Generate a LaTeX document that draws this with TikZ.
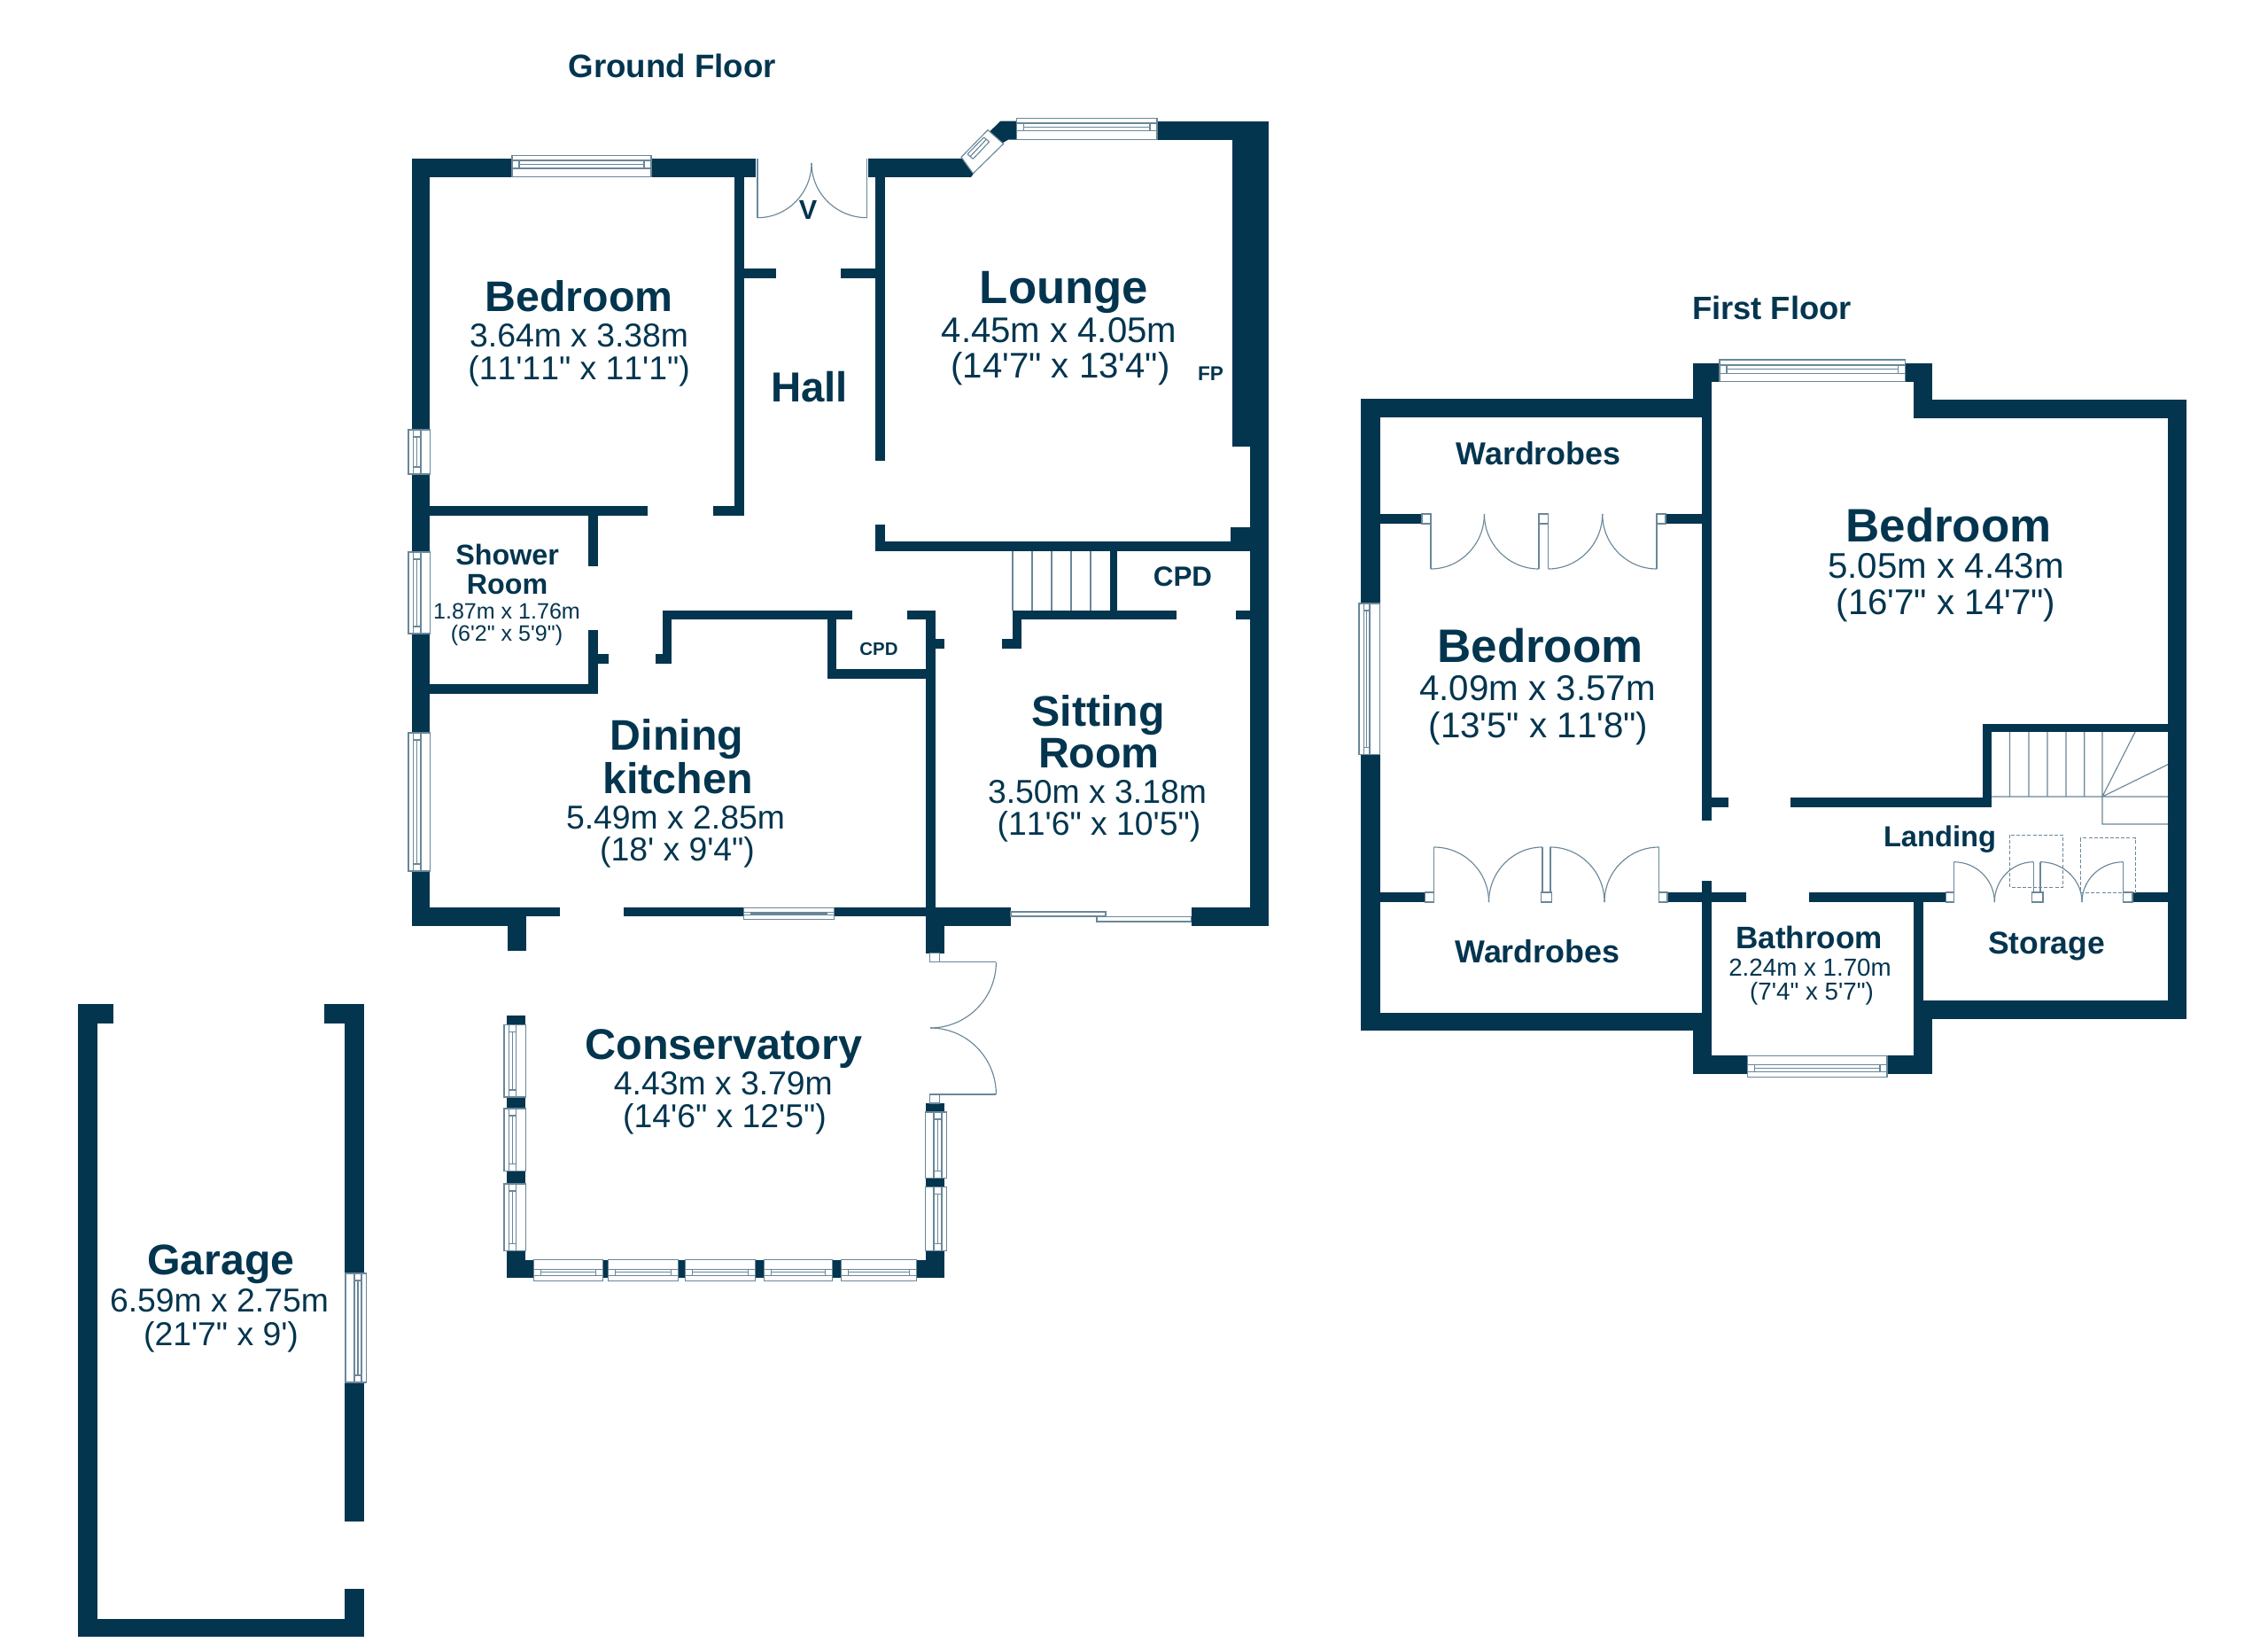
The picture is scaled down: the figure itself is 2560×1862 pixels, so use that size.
\documentclass[tikz,border=0pt]{standalone}
\usepackage{fontspec}
\newfontfamily\lsans{Liberation Sans}
\newfontfamily\lsansnk[Kerning=Off]{Liberation Sans}
\definecolor{wall}{HTML}{03354F}
\definecolor{thin}{HTML}{6A8799}
\tikzset{
  lab/.style={anchor=base,inner sep=0pt,outer sep=0pt,text=wall},
  ttl/.style={lab,font=\lsans\bfseries\fontsize{#1}{#1}\selectfont},
  dm/.style={lab,font=\lsansnk\fontsize{#1}{#1}\selectfont},
  thinline/.style={draw=thin,line width=0.85pt},
  dashline/.style={draw=thin,line width=0.75pt,dashed,dash pattern=on 3pt off 1.6pt},
}
% wall rectangle
\newcommand\wl[4]{\fill[wall] (#1,#2) rectangle (#3,#4);}
% white jamb
\newcommand\jb[4]{\filldraw[thinline,fill=white] (#1,#2) rectangle (#3,#4);}
% horizontal window: x0,y0,x1,y1,ya,yb
\newcommand\hwin[6]{%
  \filldraw[thinline,fill=white] (#1,#2) rectangle (#3,#4);
  \draw[thinline] (#1,#5) -- (#3,#5) (#1,#6) -- (#3,#6)
    ({#1+8},#5) -- ({#1+8},#6) ({#3-8},#5) -- ({#3-8},#6)
    ({#1+8},{(#5+#6)/2}) -- ({#3-8},{(#5+#6)/2});}
% vertical window: x0,y0,x1,y1,xa,xb
\newcommand\vwin[6]{%
  \filldraw[thinline,fill=white] (#1,#2) rectangle (#3,#4);
  \draw[thinline] (#5,#2) -- (#5,#4) (#6,#2) -- (#6,#4)
    (#5,{#2+8}) -- (#6,{#2+8}) (#5,{#4-8}) -- (#6,{#4-8})
    ({(#5+#6)/2},{#2+8}) -- ({(#5+#6)/2},{#4-8});}
% door swing: from (a,b), leaving horizontally, to (c,d), arriving vertically
\newcommand\swing[4]{\draw[thinline] (#1,#2) .. controls ({#1+0.5523*(#3-#1)},#2) and (#3,{#4+0.5523*(#2-#4)}) .. (#3,#4);}
\begin{document}
\begin{tikzpicture}[x=0.75pt,y=-0.75pt]
\useasboundingbox (0,0) rectangle (2560,1862);
\fill[white] (0,0) rectangle (2560,1862);

%% ---------- GROUND FLOOR walls ----------
\wl{464.5}{179}{485}{1045}
\wl{464.5}{179}{853}{200}
\wl{829}{200}{840}{582}
\wl{840}{303}{876}{314}
\wl{949}{303}{988}{314}
\wl{988}{200}{998.5}{520}
\fill[wall] (980,179) -- (1085.7,179) -- (1100.7,193.3) -- (1096,200) -- (980,200) -- cycle;
\fill[wall] (1129.3,136.7) -- (1147.3,136.7) -- (1147.3,157.7) -- (1138,157.7) -- (1130,162.3) -- (1117.3,148.3) -- cycle;
\wl{1306}{136.7}{1432}{158}
\wl{1411}{136.7}{1432}{1045}
\wl{1391}{158}{1411}{504}
\wl{1388.5}{595}{1411}{611.5}
\wl{988}{611.4}{1411}{622}
\wl{988}{592}{998.5}{611.4}
\wl{485}{571}{731}{582}
\wl{805}{571}{840}{582}
\wl{664}{582}{675}{638.6}
\wl{664}{710.7}{675}{782.7}
\wl{675}{738}{687}{749}
\wl{485}{772}{675}{782.7}
\wl{748}{689}{962}{699}
\wl{748}{699}{758}{749}
\wl{740}{738}{758}{749}
\wl{934}{699}{944}{766}
\wl{934}{755}{1045}{766}
\wl{1024}{689}{1055.5}{699}
\wl{1045}{689}{1055.5}{1024}
\wl{1055}{720.7}{1065.5}{731.7}
\wl{1143}{689}{1327.5}{699}
\wl{1143}{699}{1153}{731.7}
\wl{1131}{720.7}{1153}{731.7}
\wl{1395}{689}{1411}{699}
\wl{1252.5}{622}{1261}{689}
\wl{464.5}{1024}{632}{1034.3}
\wl{464.5}{1034}{594}{1045}
\wl{572.6}{1045}{594}{1073}
\wl{704}{1024}{1045}{1034.3}
\wl{1044.5}{1024}{1141}{1045}
\wl{1044.5}{1045}{1065.5}{1075.7}
\wl{1344.7}{1024}{1432}{1045}

%% conservatory piers
\wl{572}{1146}{593.4}{1156.7}
\wl{572}{1238}{593.4}{1251}
\wl{572}{1321.7}{593.4}{1336}
\wl{572}{1411.7}{593.4}{1442}
\wl{593}{1421.7}{602.5}{1442}
\wl{680.4}{1421.7}{686.3}{1442}
\wl{765.4}{1421.7}{773.3}{1442}
\wl{852.4}{1421.7}{862.3}{1442}
\wl{939.4}{1421.7}{949.3}{1442}
\wl{1034.3}{1421.7}{1065.5}{1442}
\wl{1044.5}{1411.7}{1065.5}{1422}
\wl{1044.5}{1245}{1065.5}{1255}
\wl{1044.5}{1329.3}{1065.5}{1339.3}

%% ground floor windows
\hwin{578}{175.4}{735}{199.3}{181}{190}
\hwin{1147.3}{133.3}{1306}{157.7}{139}{147.7}
\hwin{839.3}{1024.7}{941.4}{1037.3}{1029.3}{1032.7}
\vwin{461}{485}{485.7}{535}{466.7}{475}
\vwin{461}{623}{485.7}{715}{466.7}{475}
\vwin{461}{827}{485.7}{983}{466.7}{475}
% diagonal lounge window
\filldraw[thinline,fill=white] (1115,146.7) -- (1132.7,162.3) -- (1098.3,195.7) -- (1085,177.3) -- cycle;
\draw[thinline] (1092,174) -- (1110.5,155) (1098.3,179.3) -- (1116.7,160) (1095,176.7) -- (1113.3,157.3)
  (1092,174) -- (1098.3,179.3) (1110.5,155) -- (1116.7,160);
% conservatory windows
\vwin{569}{1156.7}{593.4}{1238}{574.8}{582.3}
\vwin{569}{1251}{593.4}{1321.7}{574.8}{582.3}
\vwin{569}{1336}{593.4}{1411.7}{574.8}{582.3}
\vwin{1044.5}{1255}{1068.3}{1329.3}{1054}{1063}
\vwin{1044.5}{1339.3}{1068.3}{1411.7}{1054}{1063}
\hwin{602.5}{1421.7}{680.4}{1445.7}{1432.3}{1439.3}
\hwin{686.3}{1421.7}{765.4}{1445.7}{1432.3}{1439.3}
\hwin{773.3}{1421.7}{852.4}{1445.7}{1432.3}{1439.3}
\hwin{862.3}{1421.7}{939.4}{1445.7}{1432.3}{1439.3}
\hwin{949.3}{1421.7}{1034.3}{1445.7}{1432.3}{1439.3}
% sliding door
\jb{1141}{1029}{1248}{1034}
\jb{1238}{1034.7}{1344.7}{1040}
% front door
\draw[thinline] (855,179) -- (855,245.7) (978.6,179) -- (978.6,245.7);
\swing{855}{245.7}{916}{184}
\swing{978.6}{245.7}{916}{184}
% conservatory door
\jb{1049.3}{1075.7}{1060.4}{1085.7}
\jb{1049.3}{1235}{1060.4}{1245}
\draw[thinline] (1060.4,1085.7) -- (1124.4,1085.7) (1060.4,1235) -- (1124.4,1235);
\swing{1050}{1160}{1124.4}{1085.7}
\swing{1050}{1160}{1124.4}{1235}
% stairs
\draw[thinline] (1143,622) -- (1143,689) (1165,622) -- (1165,689) (1187,622) -- (1187,689)
  (1209,622) -- (1209,689) (1231,622) -- (1231,689);

%% ---------- GARAGE ----------
\wl{88.3}{1133}{110}{1847.4}
\wl{88.3}{1133}{127.7}{1154.5}
\wl{366}{1133}{410.7}{1154.5}
\wl{389.3}{1154.5}{410.7}{1717}
\wl{389.3}{1792.5}{410.7}{1847.4}
\wl{88.3}{1826.6}{410.7}{1847.4}
\vwin{390}{1437}{413.7}{1560}{400}{408}

%% ---------- FIRST FLOOR ----------
\wl{1536.4}{450}{1558}{1163.3}
\wl{1536.4}{450}{1921}{471.4}
\wl{1910.7}{409.6}{1941}{431}
\wl{1910.7}{431}{1931.8}{471.4}
\wl{1921}{471}{1931.8}{926}
\wl{2150.5}{409.6}{2181}{431}
\wl{2160}{431}{2181}{472}
\wl{2160}{451}{2467.5}{472}
\wl{2447}{451}{2467.5}{1150}
\wl{2171}{1128.7}{2467.5}{1150}
\wl{2160}{1128.7}{2181}{1212.3}
\wl{2160}{1018}{2171}{1129}
\wl{1910.7}{1190.7}{1972.6}{1212.3}
\wl{2130}{1190.7}{2181}{1212.3}
\wl{1910.7}{1142.7}{1931.8}{1212.3}
\wl{1536.4}{1142.7}{1931.8}{1163.3}
\wl{1921}{994.3}{1931.8}{1143}
\wl{1931.8}{900}{1951}{911.4}
\wl{2021}{900}{2248}{911}
\wl{2238}{816.7}{2248}{911}
\wl{2238}{816.7}{2447}{826}
\wl{1558}{580}{1605}{591}
\wl{1880}{580}{1921}{591}
\wl{1558}{1007}{1608.4}{1018}
\wl{1882}{1007}{1971.3}{1018}
\wl{2041.5}{1007}{2196.4}{1018}
\wl{2407}{1007}{2447}{1018}
% first floor windows
\hwin{1941}{406}{2150.5}{430.4}{412}{421.4}
\hwin{1972.6}{1191.7}{2130}{1215.7}{1201.7}{1209.3}
\vwin{1534}{681}{1557.4}{851.4}{1539.6}{1546}
% upper wardrobe doors
\jb{1605}{580}{1615}{591}
\jb{1737}{580}{1747.5}{591}
\jb{1870}{580}{1880}{591}
\draw[thinline] (1615,591) -- (1615,642) (1737,591) -- (1737,642) (1747.5,591) -- (1747.5,642) (1870,591) -- (1870,642);
\swing{1615}{642}{1675.4}{580}
\swing{1737}{642}{1675.4}{580}
\swing{1747.5}{642}{1808.7}{580}
\swing{1870}{642}{1808.7}{580}
% lower wardrobe doors
\jb{1608.4}{1007}{1618.6}{1018}
\jb{1739.8}{1007}{1751.3}{1018}
\jb{1872.5}{1007}{1882}{1018}
\draw[thinline] (1618.6,956) -- (1618.6,1007) (1741,956) -- (1741,1007) (1750,956) -- (1750,1007) (1872.5,956) -- (1872.5,1007);
\swing{1618.6}{956}{1680.5}{1018}
\swing{1741}{956}{1680.5}{1018}
\swing{1750}{956}{1811}{1018}
\swing{1872.5}{956}{1811}{1018}
% storage doors and dashed hatches
\draw[dashline] (2268.5,942) rectangle (2328.5,1001.3);
\draw[dashline] (2348,945.7) rectangle (2410,1007);
\jb{2196.4}{1007}{2205.4}{1018}
\jb{2293.4}{1007}{2306}{1018}
\jb{2396.7}{1007}{2407}{1018}
\draw[thinline] (2205.4,972.7) -- (2205.4,1007) (2295.3,972.7) -- (2295.3,1007) (2303,972.7) -- (2303,1007) (2396.7,972.7) -- (2396.7,1007);
\swing{2205.4}{972.7}{2251.3}{1018}
\swing{2295.3}{972.7}{2251.3}{1018}
\swing{2303}{972.7}{2350}{1018}
\swing{2396.7}{972.7}{2350}{1018}
% first floor stairs
\draw[thinline] (2268.5,826) -- (2268.5,899) (2290,826) -- (2290,899) (2311,826) -- (2311,899)
  (2332,826) -- (2332,899) (2352.7,826) -- (2352.7,899) (2373,826) -- (2373,899)
  (2248,899) -- (2447,899) (2410,826) -- (2373,899) (2373,899) -- (2447,862.7)
  (2373,899) -- (2373,930) -- (2447,930);

%% ---------- LABELS ----------
\node[ttl=27.5] (gftitle) at (758.8,87.3) {Ground Floor};
\node[ttl=27.3] (fftitle) at (2000,360.7) {First Floor};

\node[ttl=36.2] (bedA) at (653.6,352) {Bedroom};
\node[dm=28] (bedAa) at (653.6,391) {3.64m x 3.38m};
\node[dm=28] (bedAb) at (653.6,428) {(11'11" x 11'1")};

\node[ttl=39.5] (lng) at (1201,343) {Lounge};
\node[dm=30.1] (lnga) at (1195.5,386) {4.45m x 4.05m};
\node[dm=30.1] (lngb) at (1197,426) {(14'7" x 13'4")};
\node[ttl=17] (fp) at (1366.6,429) {FP};

\node[ttl=35.5] (hall) at (913.6,453) {Hall};
\node[ttl=23] (vtext) at (912,247.5) {V};
\node[ttl=23.5] (cpdA) at (1335,661.7) {CPD};
\node[ttl=15.3] (cpdB) at (992,739) {CPD};

\node[ttl=24.2] (shwA) at (572.6,637.7) {Shower};
\node[ttl=24.2] (shwB) at (572.6,670.7) {Room};
\node[dm=18.8] (shwa) at (572,698) {1.87m x 1.76m};
\node[dm=18.8] (shwb) at (572,723) {(6'2" x 5'9")};

\node[ttl=36.2] (dinA) at (764,846.7) {Dining};
\node[ttl=36.3] (dinB) at (765,895) {kitchen};
\node[dm=28] (dina) at (762.5,935) {5.49m x 2.85m};
\node[dm=28] (dinb) at (764.5,971.7) {(18' x 9'4")};

\node[ttl=36.2] (sitA) at (1239.5,819) {Sitting};
\node[ttl=36.2] (sitB) at (1240.5,866.7) {Room};
\node[dm=28] (sita) at (1238.5,906.7) {3.50m x 3.18m};
\node[dm=28] (sitb) at (1240.5,942.7) {(11'6" x 10'5")};

\node[ttl=36.4] (con) at (817,1195.5) {Conservatory};
\node[dm=28] (cona) at (816.4,1235) {4.43m x 3.79m};
\node[dm=28] (conb) at (818,1272.7) {(14'6" x 12'5")};

\node[ttl=36.2] (gar) at (249.3,1438.5) {Garage};
\node[dm=28] (gara) at (247.5,1480.5) {6.59m x 2.75m};
\node[dm=28] (garb) at (249.5,1518.5) {(21'7" x 9')};

\node[ttl=26.9] (wrA) at (1736.6,524) {Wardrobes};
\node[ttl=39.7] (bedB) at (2199.5,611) {Bedroom};
\node[dm=30.2] (bedBa) at (2196.5,652.5) {5.05m x 4.43m};
\node[dm=30.2] (bedBb) at (2196.5,693.6) {(16'7" x 14'7")};
\node[ttl=39.7] (bedC) at (1738.5,747.5) {Bedroom};
\node[dm=30.2] (bedCa) at (1735.5,790.7) {4.09m x 3.57m};
\node[dm=30.2] (bedCb) at (1736.5,832) {(13'5" x 11'8")};
\node[ttl=26.9] (wrB) at (1735.5,1086.7) {Wardrobes};
\node[ttl=24.5] (land) at (2189.5,955) {Landing};
\node[ttl=26.3] (bath) at (2042,1070.7) {Bathroom};
\node[dm=20.8] (batha) at (2043,1101) {2.24m x 1.70m};
\node[dm=20.8] (bathb) at (2045,1128) {(7'4" x 5'7")};
\node[ttl=26.6] (stor) at (2310,1076.7) {Storage};
\end{tikzpicture}
\end{document}
